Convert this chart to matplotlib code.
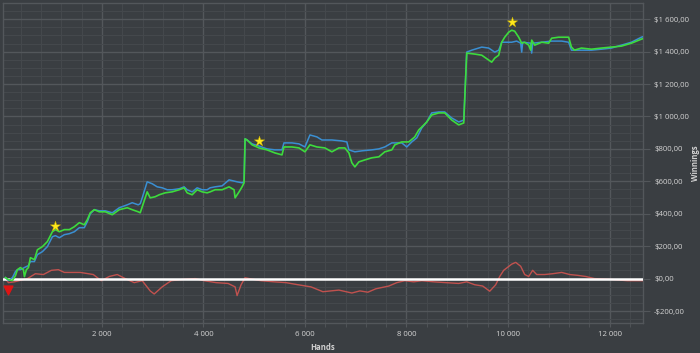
import matplotlib
matplotlib.use("Agg")
import matplotlib.pyplot as plt
from matplotlib.ticker import FuncFormatter, MultipleLocator

# ---------------- data ----------------
net_hands = [98, 157, 236, 295, 334, 393, 452, 472, 511, 551, 590, 669, 728, 826, 924,
             1023, 1082, 1160, 1259, 1357, 1456, 1554, 1652, 1711, 1770, 1849, 1947, 2065,
             2203, 2341, 2498, 2596, 2714, 2754, 2793, 2891, 2950, 3049, 3128, 3246, 3383,
             3521, 3619, 3678, 3777, 3875, 3973, 4072, 4131, 4229, 4367, 4504, 4603, 4623,
             4701, 4760, 4800, 4819, 4859, 4957, 5095, 5252, 5409, 5547, 5586, 5744, 5881,
             5999, 6098, 6235, 6392, 6530, 6668, 6786, 6865, 6924, 6983, 7062, 7180, 7317,
             7455, 7573, 7711, 7770, 7907, 8045, 8163, 8242, 8301, 8399, 8497, 8636, 8753,
             8891, 9029, 9128, 9148, 9187, 9345, 9483, 9620, 9679, 9739, 9817, 9876, 9935,
             10014, 10073, 10132, 10211, 10270, 10329, 10408, 10447, 10467, 10526, 10664,
             10801, 10860, 10998, 11116, 11195, 11250, 11309, 11447, 11644, 11841, 12038,
             12234, 12431, 12628, 12687]
net_won = [6, -6, -12, 18, 55, 68, 55, 12, 55, 68, 129, 117, 178, 197, 228,
           289, 302, 289, 302, 302, 320, 345, 332, 363, 406, 425, 412, 412,
           394, 425, 437, 425, 412, 406, 443, 535, 498, 505, 517, 529, 535,
           548, 560, 529, 517, 548, 535, 529, 535, 548, 548, 566, 548, 498,
           535, 566, 591, 862, 855, 825, 806, 794, 775, 763, 812, 812, 806,
           782, 825, 812, 806, 782, 806, 806, 775, 714, 689, 720, 732, 745,
           751, 782, 794, 825, 843, 843, 874, 917, 935, 966, 1009, 1022, 1022,
           978, 948, 960, 1114, 1391, 1385, 1378, 1348, 1335, 1360, 1378, 1458, 1489,
           1520, 1532, 1526, 1489, 1452, 1458, 1440, 1409, 1471, 1440, 1458,
           1452, 1483, 1489, 1489, 1489, 1428, 1409, 1422, 1415, 1422, 1428,
           1434, 1452, 1477, 1483]

ev_hands = [98, 157, 236, 295, 334, 393, 472, 551, 590, 669, 728, 826, 924, 1023, 1082,
            1160, 1259, 1357, 1456, 1554, 1652, 1711, 1770, 1849, 1947, 2065, 2203, 2341,
            2498, 2596, 2714, 2754, 2793, 2891, 2990, 3088, 3187, 3285, 3383, 3521, 3619,
            3678, 3777, 3875, 3973, 4072, 4131, 4229, 4367, 4504, 4662, 4760, 4800, 4819,
            4859, 4957, 5095, 5252, 5409, 5547, 5586, 5744, 5881, 5999, 6098, 6235, 6333,
            6530, 6727, 6825, 6865, 6983, 7121, 7317, 7455, 7573, 7711, 7907, 8006, 8104,
            8203, 8301, 8399, 8497, 8636, 8753, 8891, 9029, 9128, 9148, 9187, 9286, 9483,
            9620, 9739, 9817, 9876, 10073, 10171, 10250, 10270, 10289, 10447, 10467, 10486,
            10664, 10860, 11057, 11195, 11250, 11447, 11644, 11841, 12038, 12234, 12431,
            12628, 12687]
ev_won = [6, -12, 6, 43, 55, 55, 68, 80, 105, 105, 148, 166, 197, 258, 265,
          252, 271, 277, 289, 314, 314, 351, 400, 425, 418, 418, 406, 437,
          455, 468, 455, 462, 498, 597, 585, 566, 560, 548, 548, 554, 566,
          548, 535, 560, 548, 548, 560, 566, 572, 609, 597, 591, 597, 862,
          855, 831, 818, 800, 794, 794, 837, 837, 831, 812, 886, 874, 855,
          855, 849, 843, 794, 782, 788, 794, 800, 812, 837, 837, 812, 843,
          868, 929, 966, 1022, 1028, 1028, 991, 966, 978, 1114, 1397, 1409, 1428,
          1422, 1397, 1409, 1458, 1458, 1465, 1452, 1397, 1458, 1452, 1391, 1452,
          1458, 1465, 1465, 1458, 1409, 1409, 1409, 1415, 1422, 1440, 1458,
          1489, 1495]

red_hands = [98, 157, 275, 531, 688, 846, 1003, 1141, 1259, 1416, 1574, 1829, 1987, 2144,
             2301, 2459, 2636, 2793, 2950, 3029, 3187, 3364, 3600, 3836, 4013, 4249, 4485,
             4623, 4662, 4741, 4819, 4898, 5134, 5390, 5626, 5862, 6117, 6353, 6511, 6668,
             6924, 7082, 7239, 7396, 7652, 7809, 7967, 8143, 8301, 8537, 8773, 9029, 9187,
             9345, 9502, 9640, 9758, 9837, 9915, 10073, 10152, 10250, 10329, 10408, 10486,
             10565, 10722, 10880, 11057, 11215, 11372, 11530, 11703, 12018, 12353, 12668]
red_won = [0, -25, -20, 0, 30, 25, 51, 55, 38, 38, 38, 25, -13, 13,
           25, 0, -25, -13, -76, -95, -51, -13, -5, 0, -13, -25, -30,
           -51, -105, -38, 5, 0, -13, -20, -25, -38, -51, -81, -76, -71,
           -89, -76, -84, -63, -46, -25, -13, -20, -13, -20, -25, -30, -20,
           -38, -46, -78, -38, 13, 51, 89, 100, 76, 25, 13, 51,
           25, 25, 30, 38, 25, 20, 13, 0, -5, -13, -13]

star_hands = [1082, 5095, 10073]
star_won = [326, 849, 1582]
low_hands = [157]
low_won = [-68]

y_ticks = [-200, 0, 200, 400, 600, 800, 1000, 1200, 1400, 1600]
x_ticks = [2000, 4000, 6000, 8000, 10000, 12000]

# ---------------- style ----------------
BG = "#3a3e42"
MAJOR = "#53575b"
MINOR = "#45494d"
TXT = "#d2d2d2"
FS = 5.6

plt.rcParams['font.family'] = ['Open Sans', 'DejaVu Sans']

fig = plt.figure(figsize=(7.0, 3.53), dpi=100, facecolor=BG)
ax = fig.add_axes([3 / 700, 30 / 353, 640 / 700, 320 / 353])
ax.set_facecolor(BG)

ax.set_xlim(50, 12660)
ax.set_ylim(-274, 1700)

ax.xaxis.set_minor_locator(MultipleLocator(400))
ax.yaxis.set_minor_locator(MultipleLocator(50))
ax.set_xticks(x_ticks)
ax.set_yticks(y_ticks)

ax.grid(which='minor', color=MINOR, lw=0.7)
ax.grid(which='major', color=MAJOR, lw=1.0)
ax.set_axisbelow(True)

for s in ax.spines.values():
    s.set_color(MAJOR)
    s.set_linewidth(1.0)

ax.yaxis.tick_right()


def fmt_money(v, pos=None):
    sign = "-" if v < 0 else ""
    n = int(round(abs(v)))
    s = f"{n:,}".replace(",", " ")
    return f"{sign}${s},00"


def fmt_hands(v, pos=None):
    return f"{int(v):,}".replace(",", " ")


ax.yaxis.set_major_formatter(FuncFormatter(fmt_money))
ax.xaxis.set_major_formatter(FuncFormatter(fmt_hands))

ax.tick_params(axis='both', which='both', colors=MAJOR, labelcolor=TXT, labelsize=FS)
ax.tick_params(axis='y', which='major', length=5, pad=3)
ax.tick_params(axis='y', which='minor', length=0)
ax.tick_params(axis='x', which='major', length=3, pad=3)
ax.tick_params(axis='x', which='minor', length=3)

fig.text(323 / 700, 1 - 348 / 353, "Hands", color=TXT, fontsize=FS, fontweight='bold',
         ha='center', va='center')
fig.text(695 / 700, 1 - 163 / 353, "Winnings", color=TXT, fontsize=FS, fontweight='bold',
         ha='center', va='center', rotation=90)

# ---------------- series ----------------
ax.plot(red_hands, red_won, color="#d05450", lw=1.0, alpha=0.9, zorder=3)
ax.axhline(0, color="white", lw=1.8, zorder=4)
ax.plot(ev_hands, ev_won, color="#3a8fd2", lw=1.1, zorder=5)
ax.plot(net_hands, net_won, color="#3ddb3d", lw=1.2, zorder=6)
ax.scatter(star_hands, star_won, marker='*', s=60, color="#ffe81c",
           edgecolors="#c8b000", linewidths=0.3, zorder=8)
ax.scatter(low_hands, low_won, marker='v', s=40, color="#e01414", zorder=8)

fig.savefig("out.png", dpi=100, facecolor=BG)
